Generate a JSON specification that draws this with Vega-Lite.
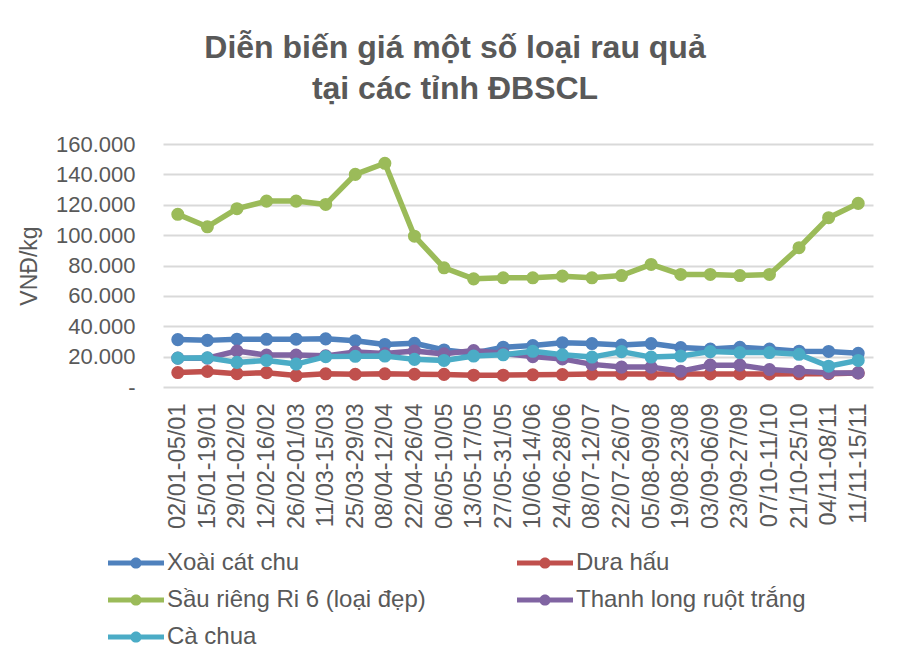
{
  "$schema": "https://vega.github.io/schema/vega-lite/v6.json",
  "autosize": {"type": "none"},
  "width": 710,
  "height": 243,
  "padding": {"left": 163, "top": 144, "right": 32, "bottom": 284},
  "background": "#ffffff",
  "config": {
    "locale": {"number": {"decimal": ",", "thousands": ".", "grouping": [3], "currency": ["", ""]}},
    "view": {"stroke": null},
    "font": "Liberation Sans"
  },
  "title": {
    "text": ["Diễn biến giá một số loại rau quả", "tại các tỉnh ĐBSCL"],
    "anchor": "middle",
    "frame": "group",
    "dx": -63,
    "baseline": "alphabetic",
    "offset": 2,
    "font": "Liberation Sans",
    "fontSize": 32,
    "fontWeight": "bold",
    "color": "#595959",
    "lineHeight": 41
  },
  "data": {
    "values": [
      {"t": "02/01-05/01", "s": "Xoài cát chu", "v": 31200},
      {"t": "15/01-19/01", "s": "Xoài cát chu", "v": 30700},
      {"t": "29/01-02/02", "s": "Xoài cát chu", "v": 31500},
      {"t": "12/02-16/02", "s": "Xoài cát chu", "v": 31400},
      {"t": "26/02-01/03", "s": "Xoài cát chu", "v": 31500},
      {"t": "11/03-15/03", "s": "Xoài cát chu", "v": 31700},
      {"t": "25/03-29/03", "s": "Xoài cát chu", "v": 30500},
      {"t": "08/04-12/04", "s": "Xoài cát chu", "v": 28000},
      {"t": "22/04-26/04", "s": "Xoài cát chu", "v": 28800},
      {"t": "06/05-10/05", "s": "Xoài cát chu", "v": 24400},
      {"t": "13/05-17/05", "s": "Xoài cát chu", "v": 22200},
      {"t": "27/05-31/05", "s": "Xoài cát chu", "v": 26200},
      {"t": "10/06-14/06", "s": "Xoài cát chu", "v": 27300},
      {"t": "24/06-28/06", "s": "Xoài cát chu", "v": 29200},
      {"t": "08/07-12/07", "s": "Xoài cát chu", "v": 28600},
      {"t": "22/07-26/07", "s": "Xoài cát chu", "v": 27600},
      {"t": "05/08-09/08", "s": "Xoài cát chu", "v": 28600},
      {"t": "19/08-23/08", "s": "Xoài cát chu", "v": 26000},
      {"t": "03/09-06/09", "s": "Xoài cát chu", "v": 25000},
      {"t": "23/09-27/09", "s": "Xoài cát chu", "v": 26100},
      {"t": "07/10-11/10", "s": "Xoài cát chu", "v": 25000},
      {"t": "21/10-25/10", "s": "Xoài cát chu", "v": 23600},
      {"t": "04/11-08/11", "s": "Xoài cát chu", "v": 23400},
      {"t": "11/11-15/11", "s": "Xoài cát chu", "v": 22200},
      {"t": "02/01-05/01", "s": "Dưa hấu", "v": 9500},
      {"t": "15/01-19/01", "s": "Dưa hấu", "v": 10200},
      {"t": "29/01-02/02", "s": "Dưa hấu", "v": 8800},
      {"t": "12/02-16/02", "s": "Dưa hấu", "v": 9400},
      {"t": "26/02-01/03", "s": "Dưa hấu", "v": 7500},
      {"t": "11/03-15/03", "s": "Dưa hấu", "v": 8700},
      {"t": "25/03-29/03", "s": "Dưa hấu", "v": 8400},
      {"t": "08/04-12/04", "s": "Dưa hấu", "v": 8700},
      {"t": "22/04-26/04", "s": "Dưa hấu", "v": 8400},
      {"t": "06/05-10/05", "s": "Dưa hấu", "v": 8300},
      {"t": "13/05-17/05", "s": "Dưa hấu", "v": 7800},
      {"t": "27/05-31/05", "s": "Dưa hấu", "v": 7800},
      {"t": "10/06-14/06", "s": "Dưa hấu", "v": 8000},
      {"t": "24/06-28/06", "s": "Dưa hấu", "v": 8200},
      {"t": "08/07-12/07", "s": "Dưa hấu", "v": 8500},
      {"t": "22/07-26/07", "s": "Dưa hấu", "v": 8500},
      {"t": "05/08-09/08", "s": "Dưa hấu", "v": 8500},
      {"t": "19/08-23/08", "s": "Dưa hấu", "v": 8500},
      {"t": "03/09-06/09", "s": "Dưa hấu", "v": 8600},
      {"t": "23/09-27/09", "s": "Dưa hấu", "v": 8600},
      {"t": "07/10-11/10", "s": "Dưa hấu", "v": 8600},
      {"t": "21/10-25/10", "s": "Dưa hấu", "v": 8700},
      {"t": "04/11-08/11", "s": "Dưa hấu", "v": 8800},
      {"t": "11/11-15/11", "s": "Dưa hấu", "v": 9300},
      {"t": "02/01-05/01", "s": "Sầu riêng Ri 6 (loại đẹp)", "v": 113700},
      {"t": "15/01-19/01", "s": "Sầu riêng Ri 6 (loại đẹp)", "v": 105500},
      {"t": "29/01-02/02", "s": "Sầu riêng Ri 6 (loại đẹp)", "v": 117400},
      {"t": "12/02-16/02", "s": "Sầu riêng Ri 6 (loại đẹp)", "v": 122400},
      {"t": "26/02-01/03", "s": "Sầu riêng Ri 6 (loại đẹp)", "v": 122400},
      {"t": "11/03-15/03", "s": "Sầu riêng Ri 6 (loại đẹp)", "v": 120200},
      {"t": "25/03-29/03", "s": "Sầu riêng Ri 6 (loại đẹp)", "v": 140000},
      {"t": "08/04-12/04", "s": "Sầu riêng Ri 6 (loại đẹp)", "v": 147300},
      {"t": "22/04-26/04", "s": "Sầu riêng Ri 6 (loại đẹp)", "v": 99300},
      {"t": "06/05-10/05", "s": "Sầu riêng Ri 6 (loại đẹp)", "v": 78500},
      {"t": "13/05-17/05", "s": "Sầu riêng Ri 6 (loại đẹp)", "v": 71200},
      {"t": "27/05-31/05", "s": "Sầu riêng Ri 6 (loại đẹp)", "v": 71900},
      {"t": "10/06-14/06", "s": "Sầu riêng Ri 6 (loại đẹp)", "v": 71900},
      {"t": "24/06-28/06", "s": "Sầu riêng Ri 6 (loại đẹp)", "v": 73000},
      {"t": "08/07-12/07", "s": "Sầu riêng Ri 6 (loại đẹp)", "v": 71900},
      {"t": "22/07-26/07", "s": "Sầu riêng Ri 6 (loại đẹp)", "v": 73400},
      {"t": "05/08-09/08", "s": "Sầu riêng Ri 6 (loại đẹp)", "v": 80700},
      {"t": "19/08-23/08", "s": "Sầu riêng Ri 6 (loại đẹp)", "v": 74100},
      {"t": "03/09-06/09", "s": "Sầu riêng Ri 6 (loại đẹp)", "v": 74100},
      {"t": "23/09-27/09", "s": "Sầu riêng Ri 6 (loại đẹp)", "v": 73400},
      {"t": "07/10-11/10", "s": "Sầu riêng Ri 6 (loại đẹp)", "v": 74100},
      {"t": "21/10-25/10", "s": "Sầu riêng Ri 6 (loại đẹp)", "v": 91700},
      {"t": "04/11-08/11", "s": "Sầu riêng Ri 6 (loại đẹp)", "v": 111500},
      {"t": "11/11-15/11", "s": "Sầu riêng Ri 6 (loại đẹp)", "v": 120900},
      {"t": "02/01-05/01", "s": "Thanh long ruột trắng", "v": 19000},
      {"t": "15/01-19/01", "s": "Thanh long ruột trắng", "v": 19000},
      {"t": "29/01-02/02", "s": "Thanh long ruột trắng", "v": 23700},
      {"t": "12/02-16/02", "s": "Thanh long ruột trắng", "v": 21000},
      {"t": "26/02-01/03", "s": "Thanh long ruột trắng", "v": 21000},
      {"t": "11/03-15/03", "s": "Thanh long ruột trắng", "v": 20500},
      {"t": "25/03-29/03", "s": "Thanh long ruột trắng", "v": 23000},
      {"t": "08/04-12/04", "s": "Thanh long ruột trắng", "v": 22000},
      {"t": "22/04-26/04", "s": "Thanh long ruột trắng", "v": 23700},
      {"t": "06/05-10/05", "s": "Thanh long ruột trắng", "v": 21800},
      {"t": "13/05-17/05", "s": "Thanh long ruột trắng", "v": 24000},
      {"t": "27/05-31/05", "s": "Thanh long ruột trắng", "v": 22000},
      {"t": "10/06-14/06", "s": "Thanh long ruột trắng", "v": 20000},
      {"t": "24/06-28/06", "s": "Thanh long ruột trắng", "v": 18500},
      {"t": "08/07-12/07", "s": "Thanh long ruột trắng", "v": 14900},
      {"t": "22/07-26/07", "s": "Thanh long ruột trắng", "v": 13100},
      {"t": "05/08-09/08", "s": "Thanh long ruột trắng", "v": 13100},
      {"t": "19/08-23/08", "s": "Thanh long ruột trắng", "v": 10400},
      {"t": "03/09-06/09", "s": "Thanh long ruột trắng", "v": 14400},
      {"t": "23/09-27/09", "s": "Thanh long ruột trắng", "v": 14400},
      {"t": "07/10-11/10", "s": "Thanh long ruột trắng", "v": 11500},
      {"t": "21/10-25/10", "s": "Thanh long ruột trắng", "v": 10400},
      {"t": "04/11-08/11", "s": "Thanh long ruột trắng", "v": 9300},
      {"t": "11/11-15/11", "s": "Thanh long ruột trắng", "v": 9300},
      {"t": "02/01-05/01", "s": "Cà chua", "v": 19000},
      {"t": "15/01-19/01", "s": "Cà chua", "v": 19200},
      {"t": "29/01-02/02", "s": "Cà chua", "v": 16200},
      {"t": "12/02-16/02", "s": "Cà chua", "v": 17500},
      {"t": "26/02-01/03", "s": "Cà chua", "v": 15100},
      {"t": "11/03-15/03", "s": "Cà chua", "v": 20000},
      {"t": "25/03-29/03", "s": "Cà chua", "v": 20200},
      {"t": "08/04-12/04", "s": "Cà chua", "v": 20400},
      {"t": "22/04-26/04", "s": "Cà chua", "v": 18200},
      {"t": "06/05-10/05", "s": "Cà chua", "v": 17500},
      {"t": "13/05-17/05", "s": "Cà chua", "v": 20400},
      {"t": "27/05-31/05", "s": "Cà chua", "v": 21200},
      {"t": "10/06-14/06", "s": "Cà chua", "v": 23500},
      {"t": "24/06-28/06", "s": "Cà chua", "v": 21200},
      {"t": "08/07-12/07", "s": "Cà chua", "v": 19700},
      {"t": "22/07-26/07", "s": "Cà chua", "v": 23300},
      {"t": "05/08-09/08", "s": "Cà chua", "v": 19700},
      {"t": "19/08-23/08", "s": "Cà chua", "v": 20400},
      {"t": "03/09-06/09", "s": "Cà chua", "v": 23300},
      {"t": "23/09-27/09", "s": "Cà chua", "v": 22700},
      {"t": "07/10-11/10", "s": "Cà chua", "v": 22700},
      {"t": "21/10-25/10", "s": "Cà chua", "v": 21500},
      {"t": "04/11-08/11", "s": "Cà chua", "v": 13700},
      {"t": "11/11-15/11", "s": "Cà chua", "v": 17500}
    ]
  },
  "encoding": {
    "x": {
      "field": "t",
      "type": "ordinal",
      "sort": null,
      "scale": {"type": "point", "padding": 0.5},
      "axis": {
        "title": null,
        "labelAngle": 270,
        "labelFont": "Liberation Sans",
        "labelFontSize": 23.5,
        "labelColor": "#595959",
        "labelPadding": 16,
        "ticks": false,
        "domain": false,
        "grid": false,
        "labelOverlap": false
      }
    },
    "y": {
      "field": "v",
      "type": "quantitative",
      "scale": {"domain": [0, 160000], "nice": false},
      "axis": {
        "title": "VNĐ/kg",
        "titleFont": "Liberation Sans",
        "titleFontSize": 23,
        "titleFontWeight": "normal",
        "titleColor": "#595959",
        "titlePadding": 14,
        "values": [0, 20000, 40000, 60000, 80000, 100000, 120000, 140000, 160000],
        "labelExpr": "datum.value == 0 ? '-  ' : format(datum.value, ',')",
        "labelFont": "Liberation Sans",
        "labelFontSize": 22,
        "labelColor": "#595959",
        "labelPadding": 28,
        "ticks": false,
        "domain": false,
        "grid": true,
        "gridColor": "#d9d9d9",
        "gridWidth": 2
      }
    },
    "color": {
      "field": "s",
      "type": "nominal",
      "scale": {
        "domain": ["Xoài cát chu", "Dưa hấu", "Sầu riêng Ri 6 (loại đẹp)", "Thanh long ruột trắng", "Cà chua"],
        "range": ["#4f81bd", "#c0504d", "#9bbb59", "#8064a2", "#4bacc6"]
      },
      "legend": {
        "title": null,
        "orient": "none",
        "legendX": -55,
        "legendY": 405,
        "columns": 2,
        "direction": "horizontal",
        "symbolType": "M-1,-0.18H3V0.18H-1Z M1.4,0A0.4,0.4 0 1,1 0.6,0A0.4,0.4 0 1,1 1.4,0Z",
        "symbolSize": 784,
        "symbolStrokeWidth": 0,
        "labelOffset": 31,
        "labelFont": "Liberation Sans",
        "labelFontSize": 24,
        "labelColor": "#595959",
        "labelLimit": 0,
        "rowPadding": 11,
        "columnPadding": 91,
        "encode": {
          "symbols": {
            "update": {
              "fill": {"scale": "color", "field": "value"},
              "stroke": {"value": "transparent"},
              "opacity": {"value": 1}
            }
          }
        }
      }
    }
  },
  "layer": [
    {
      "transform": [{"filter": "datum.s == 'Xoài cát chu'"}],
      "mark": {"type": "line", "strokeWidth": 5.5, "strokeJoin": "round", "point": {"filled": true, "size": 170, "opacity": 1}}
    },
    {
      "transform": [{"filter": "datum.s == 'Dưa hấu'"}],
      "mark": {"type": "line", "strokeWidth": 5.5, "strokeJoin": "round", "point": {"filled": true, "size": 170, "opacity": 1}}
    },
    {
      "transform": [{"filter": "datum.s == 'Sầu riêng Ri 6 (loại đẹp)'"}],
      "mark": {"type": "line", "strokeWidth": 5.5, "strokeJoin": "round", "point": {"filled": true, "size": 170, "opacity": 1}}
    },
    {
      "transform": [{"filter": "datum.s == 'Thanh long ruột trắng'"}],
      "mark": {"type": "line", "strokeWidth": 5.5, "strokeJoin": "round", "point": {"filled": true, "size": 170, "opacity": 1}}
    },
    {
      "transform": [{"filter": "datum.s == 'Cà chua'"}],
      "mark": {"type": "line", "strokeWidth": 5.5, "strokeJoin": "round", "point": {"filled": true, "size": 170, "opacity": 1}}
    }
  ]
}
